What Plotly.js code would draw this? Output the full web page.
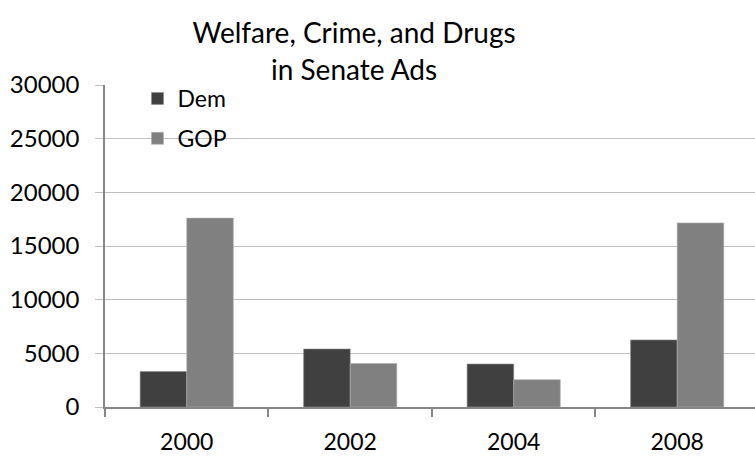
<!DOCTYPE html>
<html><head><meta charset="utf-8">
<script src="https://cdn.plot.ly/plotly-3.0.1.min.js"></script>
<style>html,body{margin:0;padding:0;background:#fff}#c{width:755px;height:459px}</style>
</head><body><div id="c"></div>
<script>
const years = ['2000', '2002', '2004', '2008'];
const dem = [3300, 5400, 4000, 6250];
const gop = [17600, 4050, 2550, 17150];
const yTicks = [0, 5000, 10000, 15000, 20000, 25000, 30000];

const font = 'Lato, Carlito, Calibri, sans-serif';
const traces = [
  {type: 'bar', name: 'Dem', x: years, y: dem, legendgroup: 'a',
   marker: {color: '#404040', line: {color: '#8a8a8a', width: 0.6}}},
  {type: 'bar', name: 'GOP', x: years, y: gop, legendgroup: 'b',
   marker: {color: '#808080', line: {color: '#b0b0b0', width: 0.6}}}
];
const layout = {
  width: 755, height: 459,
  margin: {l: 105, r: 0, t: 85, b: 52},
  paper_bgcolor: '#fff', plot_bgcolor: '#fff',
  font: {family: font, color: '#000', size: 23},
  title: {text: 'Welfare, Crime, and Drugs<br>in Senate Ads', font: {size: 28, family: font, color: '#000'},
          xref: 'container', x: 0.469, xanchor: 'center', yref: 'container', y: 0.906, yanchor: 'middle'},
  barmode: 'group', bargap: 0.43, bargroupgap: 0,
  showlegend: true,
  legend: {x: 0.05, y: 1.025, xanchor: 'left', yanchor: 'top', bgcolor: 'rgba(0,0,0,0)',
           font: {size: 23, family: font, color: '#000'}, traceorder: 'grouped', tracegroupgap: 7,
           itemwidth: 30},
  xaxis: {type: 'category', range: [-0.5, 3.476], showgrid: false, showline: true, linecolor: '#868686', linewidth: 1.5,
          ticks: 'outside', tickson: 'boundaries', ticklen: 8, tickcolor: '#868686', tickwidth: 1.5,
          ticklabelstandoff: 14, tickfont: {size: 23, family: font, color: '#000'}},
  yaxis: {range: [0, 30000], tickvals: yTicks, ticktext: yTicks.map(String), showgrid: true, gridcolor: '#c0c0c0', gridwidth: 1.3,
          showline: true, linecolor: '#868686', linewidth: 1.5, zeroline: false,
          ticks: 'outside', ticklen: 8, tickcolor: '#c0c0c0', tickwidth: 1.3,
          ticklabelstandoff: 11, tickfont: {size: 24, family: font, color: '#000'}}
};
Plotly.newPlot('c', traces, layout, {displayModeBar: false});
</script></body></html>
